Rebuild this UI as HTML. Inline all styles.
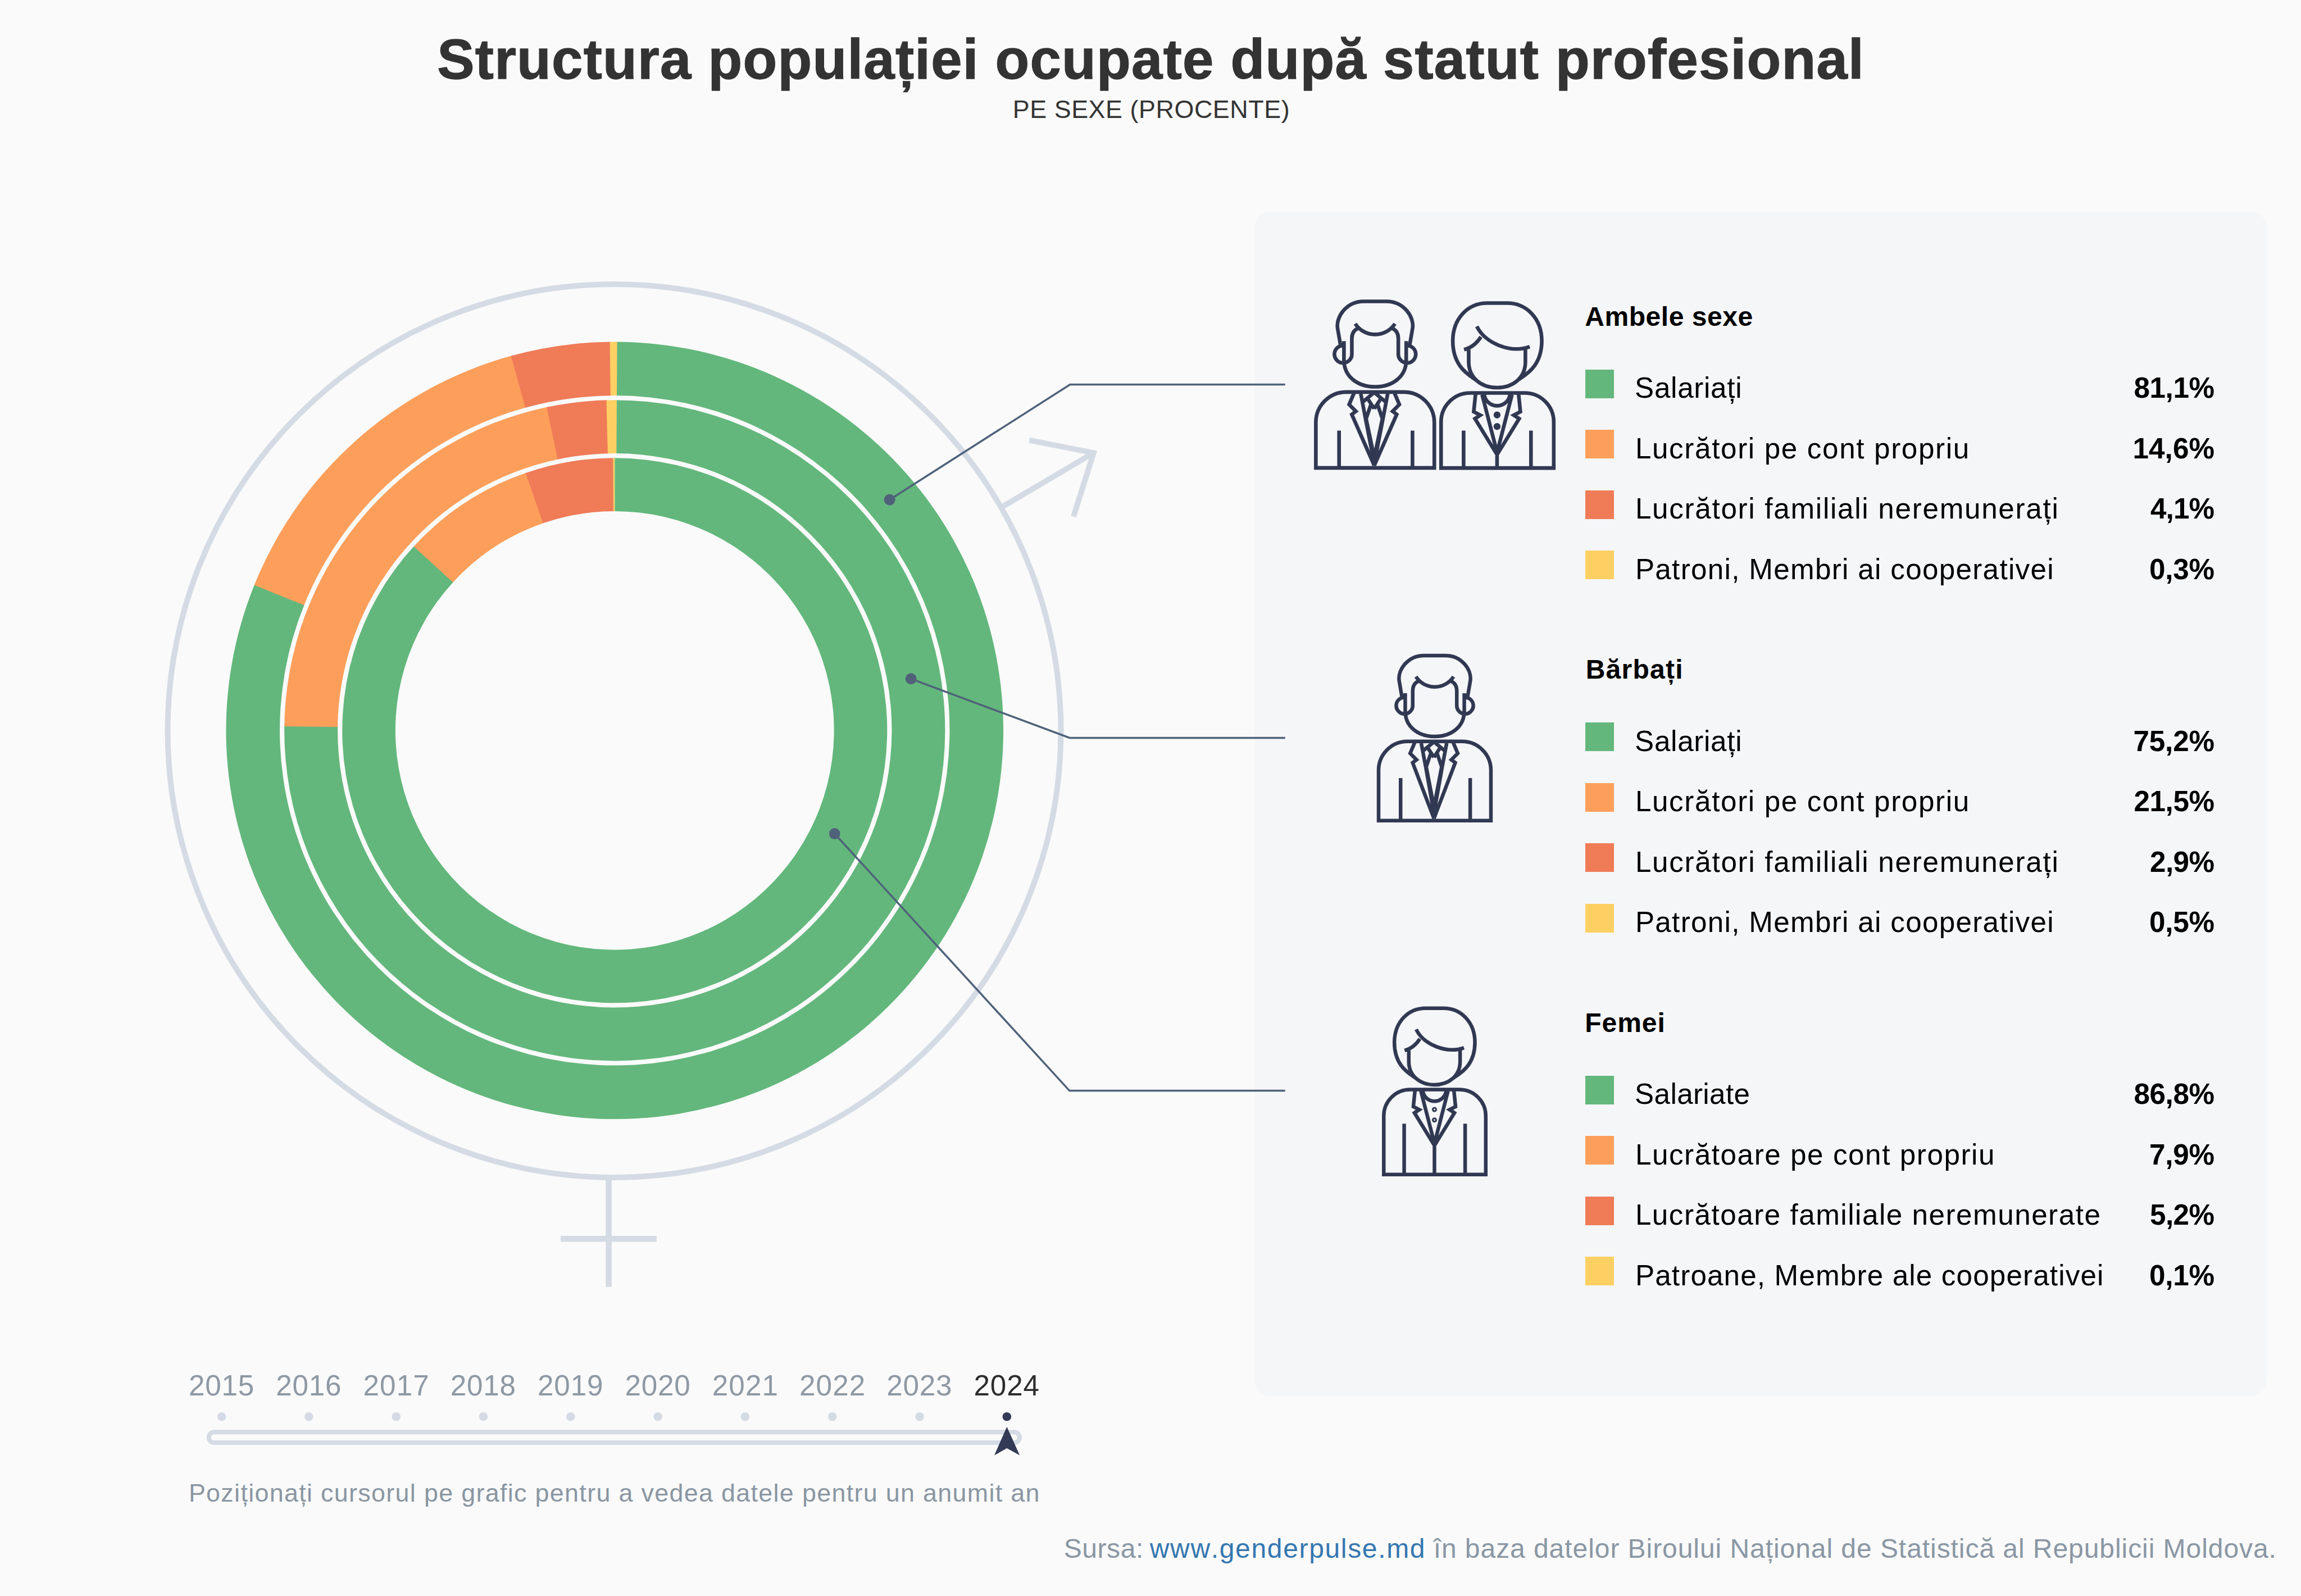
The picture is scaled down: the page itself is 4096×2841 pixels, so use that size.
<!DOCTYPE html><html lang="ro"><head><meta charset="utf-8"><title>Structura populației ocupate după statut profesional</title>
<style>
html,body{margin:0;padding:0}
body{width:4096px;height:2841px;background:#FAFAFA;position:relative;overflow:hidden;font-family:"Liberation Sans", sans-serif;}
.panel{position:absolute;left:2232.6px;top:376.7px;width:1802.8px;height:2108.3px;border-radius:28px;background:#F5F6F8}
svg.gfx{position:absolute;left:0;top:0}
.t{position:absolute;white-space:nowrap;line-height:1;margin:0;font-kerning:none}
.sw{position:absolute;width:51px;height:51px}
#title{-webkit-text-stroke:1.3px #333333}
.lnk{color:#3577B0}

</style></head><body>
<div class="panel"></div>
<svg class="gfx" width="4096" height="2841" viewBox="0 0 4096 2841">
<g fill="none" stroke="#D5DBE5" stroke-width="10">
<circle cx="1093.5" cy="1300.9" r="795"/>
<path d="M1083.6,2096 V2290.8" stroke-width="10.7"/>
<path d="M998,2205.3 H1168.9" stroke-width="10.5"/>
<path d="M1782.0,903.4 L1945.7,806.8"/>
<path d="M1832.3,783.6 L1946.7,806.2 L1910.9,919.5" stroke-linejoin="miter" stroke-miterlimit="10"/>
</g>
<path d="M1094.25,608.50 A691.8,691.8 0 1 1 453.32,1039.92 L541.89,1075.90 A596.2,596.2 0 1 0 1094.25,704.10 Z" fill="#63B77C"/>
<path d="M452.64,1041.60 A691.8,691.8 0 0 1 911.35,633.11 L936.63,725.31 A596.2,596.2 0 0 0 541.31,1077.35 Z" fill="#FD9F5B"/>
<path d="M909.61,633.60 A691.8,691.8 0 0 1 1087.37,608.53 L1088.32,704.13 A596.2,596.2 0 0 0 935.12,725.73 Z" fill="#EF7B57"/>
<path d="M1085.56,608.55 A691.8,691.8 0 0 1 1098.60,608.51 L1098.00,704.11 A596.2,596.2 0 0 0 1086.76,704.15 Z" fill="#FDD063"/>
<path d="M1094.25,712.20 A588.1,588.1 0 1 1 506.22,1291.37 L601.11,1292.81 A493.2,493.2 0 1 0 1094.25,807.10 Z" fill="#63B77C"/>
<path d="M506.20,1292.91 A588.1,588.1 0 0 1 974.69,724.48 L993.98,817.40 A493.2,493.2 0 0 0 601.09,1294.10 Z" fill="#FD9F5B"/>
<path d="M973.18,724.80 A588.1,588.1 0 0 1 1081.01,712.35 L1083.15,807.22 A493.2,493.2 0 0 0 992.72,817.66 Z" fill="#EF7B57"/>
<path d="M1079.47,712.39 A588.1,588.1 0 0 1 1097.95,712.21 L1097.35,807.11 A493.2,493.2 0 0 0 1081.86,807.26 Z" fill="#FDD063"/>
<path d="M1094.25,815.30 A485.0,485.0 0 1 1 737.41,971.83 L807.02,1035.90 A390.4,390.4 0 1 0 1094.25,909.90 Z" fill="#63B77C"/>
<path d="M736.56,972.76 A485.0,485.0 0 0 1 936.91,841.53 L967.60,931.01 A390.4,390.4 0 0 0 806.32,1036.65 Z" fill="#FD9F5B"/>
<path d="M935.71,841.94 A485.0,485.0 0 0 1 1092.47,815.30 L1092.82,909.90 A390.4,390.4 0 0 0 966.63,931.35 Z" fill="#EF7B57"/>
<path d="M1091.20,815.31 A485.0,485.0 0 0 1 1094.25,815.30 L1094.25,909.90 A390.4,390.4 0 0 0 1091.80,909.91 Z" fill="#FDD063"/>
<g fill="none" stroke="#4F627A" stroke-width="3.5" stroke-linejoin="miter">
<path d="M1583.7,889.5 L1904.8,684.5 H2287.7"/>
<path d="M1621.7,1208.3 L1904,1313.5 H2287.7"/>
<path d="M1485.7,1484.1 L1903.8,1941.6 H2287.7"/>
</g>
<circle cx="1583.7" cy="889.5" r="10" fill="#4F627A"/>
<circle cx="1621.7" cy="1208.3" r="10" fill="#4F627A"/>
<circle cx="1485.7" cy="1484.1" r="10" fill="#4F627A"/>
<circle cx="394.6" cy="2521.7" r="7.8" fill="#D5DBE5"/>
<circle cx="549.9" cy="2521.7" r="7.8" fill="#D5DBE5"/>
<circle cx="705.2" cy="2521.7" r="7.8" fill="#D5DBE5"/>
<circle cx="860.5" cy="2521.7" r="7.8" fill="#D5DBE5"/>
<circle cx="1015.8" cy="2521.7" r="7.8" fill="#D5DBE5"/>
<circle cx="1171.1" cy="2521.7" r="7.8" fill="#D5DBE5"/>
<circle cx="1326.4" cy="2521.7" r="7.8" fill="#D5DBE5"/>
<circle cx="1481.7" cy="2521.7" r="7.8" fill="#D5DBE5"/>
<circle cx="1637.0" cy="2521.7" r="7.8" fill="#D5DBE5"/>
<circle cx="1792.3" cy="2521.7" r="7.8" fill="#333A56"/>
<rect x="371.8" y="2549.3" width="1443.2" height="18.8" rx="9.4" fill="none" stroke="#D5DBE5" stroke-width="8"/>
<path d="M1792.3,2539.8 L1815.2,2590.5 L1792.3,2578 L1770,2590.5 Z" fill="#333A56"/>
<path d="M2342.33,832.90 L2342.33,752.01 A54.18,54.18 0 0 1 2396.51,697.83 L2499.07,697.83 A54.18,54.18 0 0 1 2553.25,752.01 L2553.25,832.90 Z M2383.69,766.48 L2383.69,832.90 M2514.38,766.48 L2514.38,832.90 M2392.37,607.26 L2392.37,640.97 C2392.37,669.92 2416.15,688.53 2447.79,688.53 C2479.43,688.53 2503.21,669.92 2503.21,640.97 L2503.21,607.26 M2392.37,615.12 A15.51,15.51 0 1 0 2406.44,630.63 L2406.44,602.71 Q2406.44,589.27 2417.19,584.52 M2503.21,615.12 A15.51,15.51 0 1 1 2489.15,630.63 L2489.15,602.71 Q2489.15,589.27 2478.40,584.52 M2412.43,576.24 A42.18,42.18 0 0 0 2483.15,576.24 M2386.17,614.09 L2381.00,584.10 C2377.90,564.46 2396.51,536.54 2427.53,536.54 L2468.06,536.54 C2499.07,536.54 2517.68,564.46 2514.58,584.10 L2509.41,614.09 M2410.10,700.10 L2401.60,720.10 L2413.60,732.20 L2406.30,737.70 L2446.30,828.60 M2482.50,700.10 L2491.00,720.10 L2479.00,732.20 L2486.30,737.70 L2446.30,828.60 M2422.40,701.00 L2430.80,745.50 L2445.00,818.00 M2470.20,701.00 L2461.80,745.50 L2447.60,818.00 M2425.00,716.20 L2446.30,698.50 M2467.60,716.20 L2446.30,698.50 M2433.95,708.70 L2446.30,727.50 M2458.65,708.70 L2446.30,727.50 M2440.70,719.10 L2431.80,745.50 L2446.30,814.40 M2451.90,719.10 L2460.80,745.50 L2446.30,814.40 M2446.3,812.4 L2446.3,828.4" fill="none" stroke="#313852" stroke-width="6.6" stroke-linejoin="miter" stroke-miterlimit="10"/>
<path d="M2565.23,833.10 L2565.23,751.18 A51.70,51.70 0 0 1 2616.92,699.49 L2714.11,699.49 A51.70,51.70 0 0 1 2765.81,751.18 L2765.81,833.10 Z M2605.34,766.48 L2605.34,833.10 M2725.28,766.48 L2725.28,833.10 M2629.33,677.88 C2619.82,669.71 2586.11,656.48 2586.11,606.85 C2586.11,567.56 2612.37,539.44 2647.53,539.44 L2682.68,539.44 C2717.83,539.44 2744.51,567.56 2744.51,606.85 C2744.51,656.48 2709.98,669.71 2700.46,677.88 M2614.44,622.36 L2614.44,644.07 C2614.44,673.02 2637.19,689.98 2664.90,689.98 C2692.61,689.98 2715.35,673.02 2715.35,644.07 L2715.35,619.26 M2628.92,581.00 C2643.39,610.98 2688.88,629.59 2723.00,617.19 M2636.15,599.61 C2628.92,610.98 2618.58,619.26 2606.17,622.36 M2626.59,701.56 L2623.39,732.86 L2635.12,738.98 L2625.59,745.20 L2664.91,809.39 M2703.22,701.56 L2706.43,732.86 L2694.70,738.98 L2704.23,745.20 L2664.91,809.39 M2638.33,702.67 L2664.91,805.38 M2691.49,702.67 L2664.91,805.38 M2642.14,702.67 A23.07,23.07 0 0 0 2687.78,702.67 M2664.91,809.39 L2664.91,833.10" fill="none" stroke="#313852" stroke-width="6.6" stroke-linejoin="miter" stroke-miterlimit="10"/><circle cx="2664.91" cy="738.68" r="6.2" fill="#313852"/><circle cx="2664.91" cy="759.24" r="6.2" fill="#313852"/>
<g transform="translate(2554.0,1319.8) scale(0.948) translate(-2447.8,-697.8)"><path d="M2342.33,846.60 L2342.33,752.01 A54.18,54.18 0 0 1 2396.51,697.83 L2499.07,697.83 A54.18,54.18 0 0 1 2553.25,752.01 L2553.25,846.60 Z M2383.69,766.48 L2383.69,846.60 M2514.38,766.48 L2514.38,846.60 M2392.37,607.26 L2392.37,640.97 C2392.37,669.92 2416.15,688.53 2447.79,688.53 C2479.43,688.53 2503.21,669.92 2503.21,640.97 L2503.21,607.26 M2392.37,615.12 A15.51,15.51 0 1 0 2406.44,630.63 L2406.44,602.71 Q2406.44,589.27 2417.19,584.52 M2503.21,615.12 A15.51,15.51 0 1 1 2489.15,630.63 L2489.15,602.71 Q2489.15,589.27 2478.40,584.52 M2412.43,576.24 A42.18,42.18 0 0 0 2483.15,576.24 M2386.17,614.09 L2381.00,584.10 C2377.90,564.46 2396.51,536.54 2427.53,536.54 L2468.06,536.54 C2499.07,536.54 2517.68,564.46 2514.58,584.10 L2509.41,614.09 M2410.10,700.10 L2401.60,720.10 L2413.60,732.20 L2406.30,737.70 L2446.30,842.30 M2482.50,700.10 L2491.00,720.10 L2479.00,732.20 L2486.30,737.70 L2446.30,842.30 M2422.40,701.00 L2430.80,745.50 L2445.00,825.00 M2470.20,701.00 L2461.80,745.50 L2447.60,825.00 M2425.00,716.20 L2446.30,698.50 M2467.60,716.20 L2446.30,698.50 M2433.95,708.70 L2446.30,727.50 M2458.65,708.70 L2446.30,727.50 M2440.70,719.10 L2431.80,745.50 L2446.30,821.40 M2451.90,719.10 L2460.80,745.50 L2446.30,821.40 M2446.3,819.4 L2446.3,842.1" fill="none" stroke="#313852" stroke-width="6.856540084388186" stroke-linejoin="miter" stroke-miterlimit="10"/></g>
<g transform="translate(2554.0,1939.6) scale(0.905) translate(-2665.5,-699.5)"><path d="M2565.23,866.50 L2565.23,751.18 A51.70,51.70 0 0 1 2616.92,699.49 L2714.11,699.49 A51.70,51.70 0 0 1 2765.81,751.18 L2765.81,866.50 Z M2605.34,766.48 L2605.34,866.50 M2725.28,766.48 L2725.28,866.50 M2629.33,677.88 C2619.82,669.71 2586.11,656.48 2586.11,606.85 C2586.11,567.56 2612.37,539.44 2647.53,539.44 L2682.68,539.44 C2717.83,539.44 2744.51,567.56 2744.51,606.85 C2744.51,656.48 2709.98,669.71 2700.46,677.88 M2614.44,622.36 L2614.44,644.07 C2614.44,673.02 2637.19,689.98 2664.90,689.98 C2692.61,689.98 2715.35,673.02 2715.35,644.07 L2715.35,619.26 M2628.92,581.00 C2643.39,610.98 2688.88,629.59 2723.00,617.19 M2636.15,599.61 C2628.92,610.98 2618.58,619.26 2606.17,622.36 M2626.59,701.56 L2623.39,732.86 L2635.12,738.98 L2625.59,745.20 L2664.91,809.39 M2703.22,701.56 L2706.43,732.86 L2694.70,738.98 L2704.23,745.20 L2664.91,809.39 M2638.33,702.67 L2664.91,805.38 M2691.49,702.67 L2664.91,805.38 M2642.14,702.67 A23.07,23.07 0 0 0 2687.78,702.67 M2664.91,809.39 L2664.91,866.50" fill="none" stroke="#313852" stroke-width="7.18232044198895" stroke-linejoin="miter" stroke-miterlimit="10"/><circle cx="2664.91" cy="738.68" r="3.3" fill="none" stroke="#313852" stroke-width="3.4"/><circle cx="2664.91" cy="759.24" r="3.3" fill="none" stroke="#313852" stroke-width="3.4"/></g>
</svg>
<div class="sw" style="left:2821.6px;top:657.5px;background:#63B77C"></div>
<div class="sw" style="left:2821.6px;top:765.0px;background:#FD9F5B"></div>
<div class="sw" style="left:2821.6px;top:872.5px;background:#EF7B57"></div>
<div class="sw" style="left:2821.6px;top:980.0px;background:#FDD063"></div>
<div class="sw" style="left:2821.6px;top:1286.0px;background:#63B77C"></div>
<div class="sw" style="left:2821.6px;top:1393.5px;background:#FD9F5B"></div>
<div class="sw" style="left:2821.6px;top:1501.0px;background:#EF7B57"></div>
<div class="sw" style="left:2821.6px;top:1608.5px;background:#FDD063"></div>
<div class="sw" style="left:2821.6px;top:1914.5px;background:#63B77C"></div>
<div class="sw" style="left:2821.6px;top:2022.0px;background:#FD9F5B"></div>
<div class="sw" style="left:2821.6px;top:2129.5px;background:#EF7B57"></div>
<div class="sw" style="left:2821.6px;top:2237.0px;background:#FDD063"></div>
<h1 class="t" id="title" style="left:778.20px;top:56.39px;font-size:99.36px;font-weight:700;color:#333333;letter-spacing:1.299px">Structura populației ocupate după statut profesional</h1>
<div class="t" id="sub" style="left:1802.70px;top:172.38px;font-size:44.8px;font-weight:400;color:#333333;letter-spacing:0.589px">PE SEXE (PROCENTE)</div>
<div class="t" id="y2015" style="left:335.90px;top:2441.16px;font-size:51.2px;font-weight:400;color:#8E99A4;letter-spacing:0.799px">2015</div>
<div class="t" id="y2016" style="left:491.20px;top:2441.16px;font-size:51.2px;font-weight:400;color:#8E99A4;letter-spacing:0.799px">2016</div>
<div class="t" id="y2017" style="left:646.50px;top:2441.16px;font-size:51.2px;font-weight:400;color:#8E99A4;letter-spacing:1.132px">2017</div>
<div class="t" id="y2018" style="left:801.80px;top:2441.16px;font-size:51.2px;font-weight:400;color:#8E99A4;letter-spacing:0.799px">2018</div>
<div class="t" id="y2019" style="left:957.10px;top:2441.16px;font-size:51.2px;font-weight:400;color:#8E99A4;letter-spacing:0.799px">2019</div>
<div class="t" id="y2020" style="left:1112.40px;top:2441.16px;font-size:51.2px;font-weight:400;color:#8E99A4;letter-spacing:0.799px">2020</div>
<div class="t" id="y2021" style="left:1267.70px;top:2441.16px;font-size:51.2px;font-weight:400;color:#8E99A4;letter-spacing:1.132px">2021</div>
<div class="t" id="y2022" style="left:1423.00px;top:2441.16px;font-size:51.2px;font-weight:400;color:#8E99A4;letter-spacing:1.132px">2022</div>
<div class="t" id="y2023" style="left:1578.30px;top:2441.16px;font-size:51.2px;font-weight:400;color:#8E99A4;letter-spacing:0.799px">2023</div>
<div class="t" id="y2024" style="left:1733.60px;top:2441.16px;font-size:51.2px;font-weight:400;color:#2D2D2D;letter-spacing:0.799px">2024</div>
<div class="t" id="hint" style="left:335.90px;top:2634.98px;font-size:44.8px;font-weight:400;color:#8996A2;letter-spacing:1.340px">Poziționați cursorul pe grafic pentru a vedea datele pentru un anumit an</div>
<div class="t" id="srca" style="left:1893.70px;top:2733.47px;font-size:48.0px;font-weight:400;color:#8A97A4;letter-spacing:0.562px">Sursa:</div>
<div class="t" id="srcb" style="left:2046.80px;top:2733.47px;font-size:48.0px;font-weight:400;color:#3577B0;letter-spacing:1.655px">www.genderpulse.md</div>
<div class="t" id="srcc" style="left:2551.70px;top:2733.47px;font-size:48.0px;font-weight:400;color:#8A97A4;letter-spacing:0.939px">în baza datelor Biroului Național de Statistică al Republicii Moldova.</div>
<div class="t" id="h0" style="left:2821.20px;top:539.87px;font-size:48.0px;font-weight:700;color:#000;letter-spacing:0.549px">Ambele sexe</div>
<div class="t" id="l00" style="left:2910.10px;top:665.16px;font-size:51.2px;font-weight:400;color:#000;letter-spacing:0.693px">Salariați</div>
<div class="t" id="v00" style="left:3798.50px;top:665.16px;font-size:51.2px;font-weight:700;color:#000;letter-spacing:-0.406px">81,1%</div>
<div class="t" id="l01" style="left:2910.90px;top:772.66px;font-size:51.2px;font-weight:400;color:#000;letter-spacing:1.647px">Lucrători pe cont propriu</div>
<div class="t" id="v01" style="left:3796.50px;top:772.66px;font-size:51.2px;font-weight:700;color:#000;letter-spacing:0.094px">14,6%</div>
<div class="t" id="l02" style="left:2910.90px;top:880.16px;font-size:51.2px;font-weight:400;color:#000;letter-spacing:1.710px">Lucrători familiali neremunerați</div>
<div class="t" id="v02" style="left:3828.00px;top:880.16px;font-size:51.2px;font-weight:700;color:#000;letter-spacing:-0.886px">4,1%</div>
<div class="t" id="l03" style="left:2910.90px;top:987.66px;font-size:51.2px;font-weight:400;color:#000;letter-spacing:1.307px">Patroni, Membri ai cooperativei</div>
<div class="t" id="v03" style="left:3826.00px;top:987.66px;font-size:51.2px;font-weight:700;color:#000;letter-spacing:-0.219px">0,3%</div>
<div class="t" id="h1" style="left:2822.70px;top:1168.37px;font-size:48.0px;font-weight:700;color:#000;letter-spacing:1.260px">Bărbați</div>
<div class="t" id="l10" style="left:2910.10px;top:1293.66px;font-size:51.2px;font-weight:400;color:#000;letter-spacing:0.693px">Salariați</div>
<div class="t" id="v10" style="left:3797.50px;top:1293.66px;font-size:51.2px;font-weight:700;color:#000;letter-spacing:-0.156px">75,2%</div>
<div class="t" id="l11" style="left:2910.90px;top:1401.16px;font-size:51.2px;font-weight:400;color:#000;letter-spacing:1.647px">Lucrători pe cont propriu</div>
<div class="t" id="v11" style="left:3798.50px;top:1401.16px;font-size:51.2px;font-weight:700;color:#000;letter-spacing:-0.406px">21,5%</div>
<div class="t" id="l12" style="left:2910.90px;top:1508.66px;font-size:51.2px;font-weight:400;color:#000;letter-spacing:1.710px">Lucrători familiali neremunerați</div>
<div class="t" id="v12" style="left:3827.00px;top:1508.66px;font-size:51.2px;font-weight:700;color:#000;letter-spacing:-0.553px">2,9%</div>
<div class="t" id="l13" style="left:2910.90px;top:1616.16px;font-size:51.2px;font-weight:400;color:#000;letter-spacing:1.307px">Patroni, Membri ai cooperativei</div>
<div class="t" id="v13" style="left:3826.00px;top:1616.16px;font-size:51.2px;font-weight:700;color:#000;letter-spacing:-0.219px">0,5%</div>
<div class="t" id="h2" style="left:2821.20px;top:1796.87px;font-size:48.0px;font-weight:700;color:#000;letter-spacing:0.977px">Femei</div>
<div class="t" id="l20" style="left:2910.10px;top:1922.16px;font-size:51.2px;font-weight:400;color:#000;letter-spacing:0.355px">Salariate</div>
<div class="t" id="v20" style="left:3798.50px;top:1922.16px;font-size:51.2px;font-weight:700;color:#000;letter-spacing:-0.406px">86,8%</div>
<div class="t" id="l21" style="left:2910.90px;top:2029.66px;font-size:51.2px;font-weight:400;color:#000;letter-spacing:1.567px">Lucrătoare pe cont propriu</div>
<div class="t" id="v21" style="left:3826.00px;top:2029.66px;font-size:51.2px;font-weight:700;color:#000;letter-spacing:-0.219px">7,9%</div>
<div class="t" id="l22" style="left:2910.90px;top:2137.16px;font-size:51.2px;font-weight:400;color:#000;letter-spacing:1.511px">Lucrătoare familiale neremunerate</div>
<div class="t" id="v22" style="left:3827.00px;top:2137.16px;font-size:51.2px;font-weight:700;color:#000;letter-spacing:-0.553px">5,2%</div>
<div class="t" id="l23" style="left:2910.90px;top:2244.66px;font-size:51.2px;font-weight:400;color:#000;letter-spacing:1.153px">Patroane, Membre ale cooperativei</div>
<div class="t" id="v23" style="left:3826.00px;top:2244.66px;font-size:51.2px;font-weight:700;color:#000;letter-spacing:-0.219px">0,1%</div>
</body></html>
